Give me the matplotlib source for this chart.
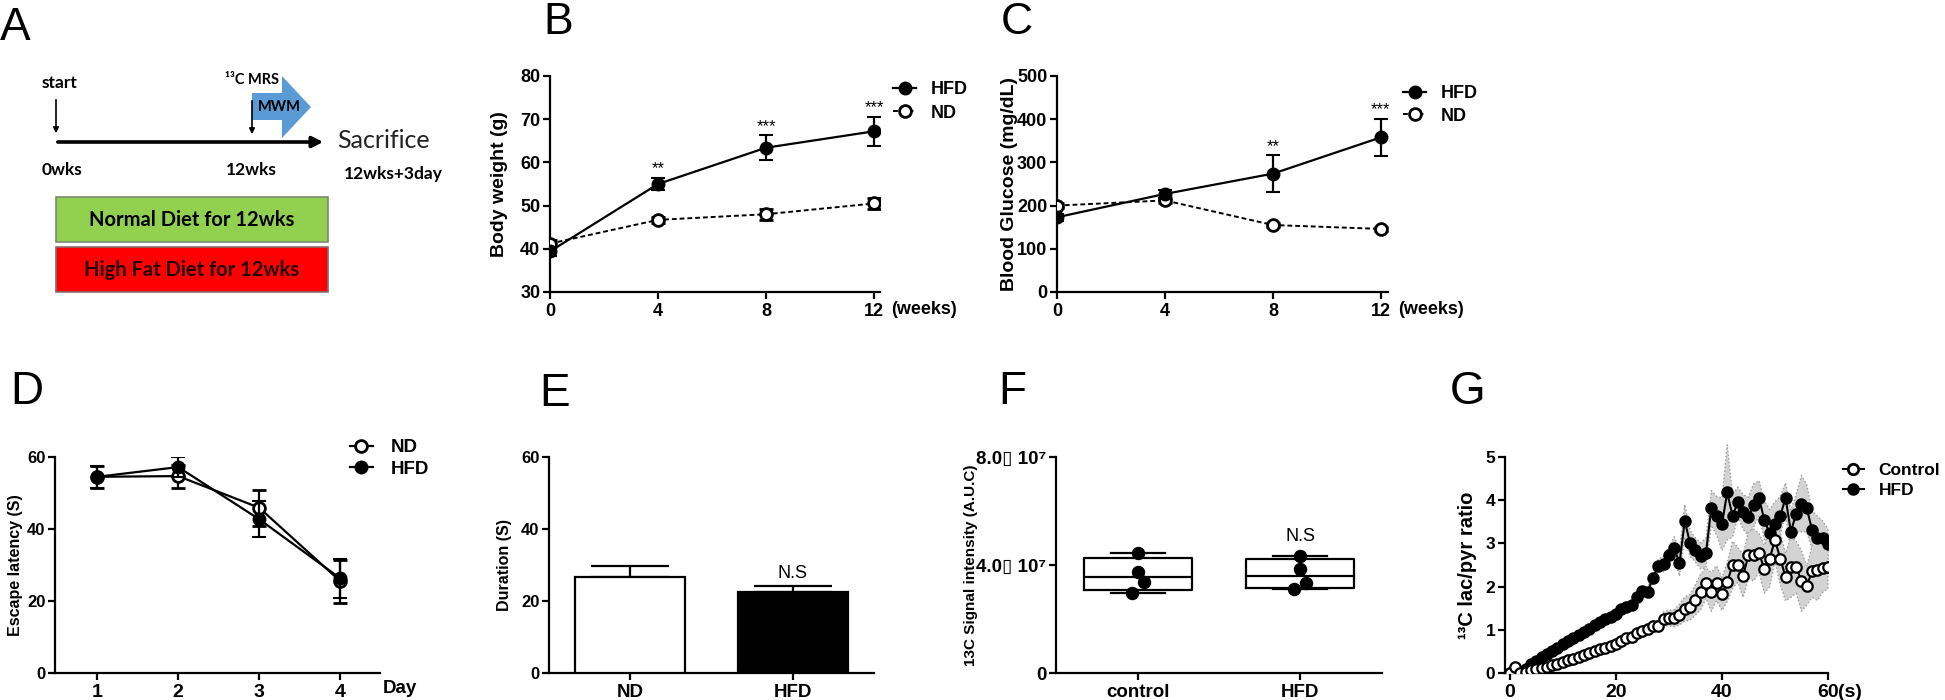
import numpy as np
import matplotlib
matplotlib.use('Agg')
import matplotlib.pyplot as plt
import matplotlib.transforms as mtransforms
from matplotlib.patches import Polygon, Rectangle
from matplotlib.lines import Line2D

plt.rcParams['font.family'] = ['Liberation Sans', 'DejaVu Sans']
plt.rcParams['font.weight'] = 'bold'
plt.rcParams['axes.labelweight'] = 'bold'
plt.rcParams['axes.linewidth'] = 1.6

# ---------------- data ----------------
weeks = [0, 4, 8, 12]
bw_hfd = [39.4, 55.0, 63.4, 67.2]
bw_hfd_err = [1.0, 1.4, 2.9, 3.4]
bw_nd = [41.2, 46.7, 48.0, 50.5]
bw_nd_err = [0.8, 0.7, 1.3, 1.3]
bw_sig = ['', '**', '***', '***']

gl_hfd = [173, 227, 274, 358]
gl_hfd_err = [8, 9, 43, 43]
gl_nd = [200, 212, 155, 146]
gl_nd_err = [5, 5, 5, 5]
gl_sig = ['', '', '**', '***']

days = [1, 2, 3, 4]
el_nd = [54.5, 54.7, 45.9, 25.5]
el_nd_err = [3.0, 3.2, 5.0, 6.0]
el_hfd = [54.5, 57.2, 42.7, 26.3]
el_hfd_err = [3.0, 2.8, 5.0, 5.5]

groups_e = ['ND', 'HFD']
duration = [26.8, 22.6]
duration_err = [3.0, 1.6]

groups_f = ['control', 'HFD']
auc_control = [4.46e7, 3.73e7, 3.37e7, 2.97e7]
auc_hfd = [4.34e7, 3.84e7, 3.35e7, 3.10e7]
f_yticklabels = ['0', '4.0\u25af 10\u2077', '8.0\u25af 10\u2077']

time_s = list(range(61))
ratio_ctrl = [0.0, 0.13, 0.0, 0.02, 0.06, 0.09, 0.12, 0.15, 0.18, 0.21,
              0.25, 0.29, 0.33, 0.37, 0.41, 0.46, 0.51, 0.55, 0.59, 0.63,
              0.68, 0.74, 0.82, 0.84, 0.92, 0.98, 1.02, 1.08, 1.08, 1.25,
              1.27, 1.27, 1.35, 1.48, 1.52, 1.69, 1.88, 2.08, 1.88, 2.08,
              1.83, 2.10, 2.50, 2.50, 2.25, 2.73, 2.73, 2.78, 2.40, 2.65,
              3.08, 2.65, 2.22, 2.45, 2.45, 2.13, 2.02, 2.35, 2.38, 2.42, 2.45]
ratio_ctrl_err = [0.02, 0.03, 0.02, 0.02, 0.02, 0.02, 0.03, 0.03, 0.03, 0.03,
                  0.03, 0.04, 0.04, 0.04, 0.05, 0.05, 0.05, 0.06, 0.06, 0.07,
                  0.07, 0.08, 0.09, 0.09, 0.10, 0.11, 0.12, 0.12, 0.14, 0.16,
                  0.18, 0.20, 0.24, 0.28, 0.30, 0.35, 0.42, 0.35, 0.45, 0.40,
                  0.38, 0.45, 0.55, 0.40, 0.50, 0.55, 0.60, 0.45, 0.55, 0.65,
                  0.50, 0.60, 0.55, 0.70, 0.60, 0.70, 0.45, 0.60, 0.70, 0.55, 0.50]
ratio_hfd = [0.0, 0.0, 0.03, 0.10, 0.20, 0.28, 0.36, 0.44, 0.51, 0.59,
             0.67, 0.74, 0.82, 0.89, 0.95, 1.02, 1.10, 1.18, 1.25, 1.30,
             1.37, 1.48, 1.52, 1.57, 1.75, 1.90, 1.88, 2.20, 2.48, 2.52,
             2.72, 2.90, 2.54, 3.52, 3.00, 2.85, 2.71, 2.78, 3.82, 3.64,
             3.44, 4.18, 3.64, 3.95, 3.73, 3.62, 3.88, 4.05, 3.54, 3.23,
             3.46, 3.64, 4.05, 3.27, 3.69, 3.92, 3.81, 3.31, 3.13, 3.12, 2.98]
ratio_hfd_err = [0.02, 0.02, 0.02, 0.02, 0.02, 0.02, 0.02, 0.02, 0.03, 0.03,
                 0.03, 0.03, 0.03, 0.04, 0.04, 0.04, 0.04, 0.05, 0.05, 0.05,
                 0.06, 0.06, 0.07, 0.07, 0.08, 0.09, 0.10, 0.12, 0.15, 0.18,
                 0.20, 0.25, 0.30, 0.38, 0.30, 0.28, 0.30, 0.35, 0.40, 0.45,
                 0.60, 1.10, 0.50, 0.35, 0.40, 0.45, 0.50, 0.40, 0.45, 0.55,
                 0.50, 0.45, 0.35, 0.50, 0.45, 0.65, 0.55, 0.45, 0.50, 0.40, 0.35]

# ---------------- figure ----------------
W, H = 1945, 700
fig = plt.figure(figsize=(W / 100, H / 100), dpi=100)


def axes_px(l, t, r, b):
    return fig.add_axes([l / W, 1 - b / H, (r - l) / W, (b - t) / H])


def style(ax, xsize, ysize):
    for s in ['top', 'right']:
        ax.spines[s].set_visible(False)
    ax.tick_params(direction='out', length=5, width=1.6)
    ax.tick_params(axis='x', labelsize=xsize, pad=3)
    ax.tick_params(axis='y', labelsize=ysize, pad=2)


def ylabel_at(ax, text, px_center, l, r, size):
    ax.set_ylabel(text, fontsize=size, fontweight='bold')
    right_edge = px_center + 0.56 * size * 100 / 72
    ax.yaxis.set_label_coords((right_edge - l) / (r - l), 0.5)


def legend_px(ax, handles, labels, px_left, px_mid, size, hl, htp, ls):
    ax.legend(handles, labels, loc='center left',
              bbox_to_anchor=(px_left / W, 1 - px_mid / H),
              bbox_transform=fig.transFigure, frameon=False,
              handlelength=hl, handletextpad=htp, labelspacing=ls,
              borderpad=0, borderaxespad=0, prop={'weight': 'bold', 'size': size})


def letter(px_x, px_top, s, size, family=None):
    kw = {}
    if family:
        kw['family'] = family
    fig.text(px_x / W, 1 - px_top / H, s, fontsize=size, fontweight='normal',
             ha='left', va='top', **kw)


ms = 8.5
filled = dict(marker='o', color='black', markerfacecolor='black', markersize=ms,
              markeredgewidth=1.5)
opened = dict(marker='o', color='black', markerfacecolor='white', markersize=ms,
              markeredgewidth=2.0)

# ---------------- Panel A ----------------
axA = fig.add_axes([0, 1 - 320 / H, 480 / W, 320 / H])
axA.set_xlim(0, 480)
axA.set_ylim(320, 0)
axA.axis('off')
fa = ['Lato', 'Liberation Sans', 'DejaVu Sans']
axA.text(60, 83, 'start', family=fa, fontsize=12.5, fontweight='bold', ha='center', va='center')
axA.annotate('', xy=(56, 136), xytext=(56, 97),
             arrowprops=dict(arrowstyle='-|>', lw=1.2, color='black', mutation_scale=8))
axA.add_patch(Polygon([(252, 93), (282, 93), (282, 76), (311, 107), (282, 138), (282, 120), (252, 120)],
                      closed=True, facecolor='#5b9bd5', edgecolor='none'))
axA.annotate('', xy=(252, 137), xytext=(252, 98),
             arrowprops=dict(arrowstyle='-|>', lw=1.2, color='black', mutation_scale=8))
axA.annotate('', xy=(326, 142), xytext=(55, 142),
             arrowprops=dict(arrowstyle='-|>', lw=2.6, color='black', mutation_scale=16))
axA.text(252, 80, '\u00b9\u00b3C MRS', family=fa, fontsize=10.5, fontweight='bold', ha='center', va='center')
axA.text(279, 107, 'MWM', family=fa, fontsize=10.5, fontweight='bold', ha='center', va='center')
axA.text(337, 140, 'Sacrifice', family=fa, fontsize=18, fontweight='normal', ha='left', va='center',
         color='#222222')
axA.text(62, 170, '0wks', family=fa, fontsize=12.5, fontweight='bold', ha='center', va='center')
axA.text(251, 170, '12wks', family=fa, fontsize=12.5, fontweight='bold', ha='center', va='center')
axA.text(393, 174, '12wks+3day', family=fa, fontsize=12.5, fontweight='bold', ha='center', va='center')
axA.add_patch(Rectangle((56, 197), 272, 45, facecolor='#92d050', edgecolor='#7a8a70', lw=1.2))
axA.add_patch(Rectangle((56, 247), 272, 45, facecolor='#ff0000', edgecolor='#8a6a6a', lw=1.2))
axA.text(192, 220, 'Normal Diet for 12wks', family=fa, fontsize=14.5, fontweight='bold',
         ha='center', va='center', color='black')
axA.text(192, 270, 'High Fat Diet for 12wks', family=fa, fontsize=14.5, fontweight='bold',
         ha='center', va='center', color='#200000')

# ---------------- Panel B ----------------
lB, rB = 550, 880
axB = axes_px(lB, 76, rB, 292)
style(axB, 13, 13)
axB.errorbar(weeks, bw_nd, yerr=bw_nd_err, ls=(0, (2.5, 1.5)), lw=1.4, capsize=5,
             elinewidth=1.6, capthick=1.6, zorder=3, **opened)
axB.errorbar(weeks, bw_hfd, yerr=bw_hfd_err, ls='-', lw=1.6, capsize=5,
             elinewidth=1.6, capthick=1.6, zorder=4, **filled)
for x, yv, e, s in zip(weeks, bw_hfd, bw_hfd_err, bw_sig):
    if s:
        axB.annotate(s, (x, yv + e), xytext=(0, 1), textcoords='offset points',
                     ha='center', va='bottom', fontsize=12, fontweight='normal')
axB.set_xlim(0, 12.22)
axB.set_ylim(30, 80)
axB.set_xticks(weeks)
axB.set_yticks([30, 40, 50, 60, 70, 80])
ylabel_at(axB, 'Body weight (g)', 497, lB, rB, 14)
tB = mtransforms.blended_transform_factory(axB.transData, axB.transAxes)
axB.text(12.65, -0.083, '(weeks)', transform=tB, fontsize=13, fontweight='bold',
         ha='left', va='center')
legend_px(axB,
          [Line2D([], [], ls='-', lw=1.6, **filled),
           Line2D([], [], ls=(0, (2.5, 1.5)), lw=1.4, **opened)],
          ['HFD', 'ND'], 893, 101.5, 13, 1.3, 0.8, 0.35)

# ---------------- Panel C ----------------
lC, rC = 1057, 1388
axC = axes_px(lC, 76, rC, 292)
style(axC, 13, 13)
axC.errorbar(weeks, gl_nd, yerr=gl_nd_err, ls=(0, (2.5, 1.5)), lw=1.4, capsize=5,
             elinewidth=1.6, capthick=1.6, zorder=3, **opened)
axC.errorbar(weeks, gl_hfd, yerr=gl_hfd_err, ls='-', lw=1.6, capsize=5,
             elinewidth=1.6, capthick=1.6, zorder=4, **filled)
for x, yv, e, s in zip(weeks, gl_hfd, gl_hfd_err, gl_sig):
    if s:
        axC.annotate(s, (x, yv + e), xytext=(0, 1), textcoords='offset points',
                     ha='center', va='bottom', fontsize=12, fontweight='normal')
axC.set_xlim(0, 12.26)
axC.set_ylim(0, 500)
axC.set_xticks(weeks)
axC.set_yticks([0, 100, 200, 300, 400, 500])
ylabel_at(axC, 'Blood Glucose (mg/dL)', 1007, lC, rC, 14)
tC = mtransforms.blended_transform_factory(axC.transData, axC.transAxes)
axC.text(12.63, -0.083, '(weeks)', transform=tC, fontsize=13, fontweight='bold',
         ha='left', va='center')
legend_px(axC,
          [Line2D([], [], ls='-', lw=1.6, **filled),
           Line2D([], [], ls=(0, (2.5, 1.5)), lw=1.4, **opened)],
          ['HFD', 'ND'], 1403, 105, 13, 1.3, 0.8, 0.3)

# ---------------- Panel D ----------------
lD, rD = 55, 380
axD = axes_px(lD, 457, rD, 673)
style(axD, 14, 12)
axD.errorbar(days, el_nd, yerr=el_nd_err, ls='-', lw=1.6, capsize=5,
             elinewidth=1.6, capthick=1.6, zorder=3, **opened)
axD.errorbar(days, el_hfd, yerr=el_hfd_err, ls='-', lw=1.6, capsize=5,
             elinewidth=1.6, capthick=1.6, zorder=4, **filled)
axD.set_xlim(0.48, 4.49)
axD.set_ylim(0, 60)
axD.set_xticks(days)
axD.set_yticks([0, 20, 40, 60])
ylabel_at(axD, 'Escape latency (S)', 14, lD, rD, 11.5)
tD = mtransforms.blended_transform_factory(axD.transData, axD.transAxes)
axD.text(4.53, -0.07, 'Day', transform=tD, fontsize=13.5, fontweight='bold',
         ha='left', va='center')
legend_px(axD,
          [Line2D([], [], ls='-', lw=1.6, **opened),
           Line2D([], [], ls='-', lw=1.6, **filled)],
          ['ND', 'HFD'], 350, 458.5, 13.5, 1.2, 0.95, 0.25)

# ---------------- Panel E ----------------
lE, rE = 549, 874
axE = axes_px(lE, 457, rE, 673)
style(axE, 13.5, 12)
xe = np.arange(len(groups_e))
axE.bar(xe, duration, width=0.67, color=['white', 'black'], edgecolor='black',
        linewidth=1.6, zorder=3)
axE.errorbar(xe, duration, yerr=[np.zeros(len(duration)), duration_err], fmt='none',
             ecolor='black', elinewidth=1.6, capsize=28, capthick=1.6, zorder=2)
axE.text(1, duration[1] + duration_err[1] + 1.2, 'N.S', ha='center', va='bottom',
         fontsize=13, fontweight='normal')
axE.set_xlim(-0.497, 1.497)
axE.set_ylim(0, 60)
axE.set_xticks(xe)
axE.set_xticklabels(groups_e)
axE.set_yticks([0, 20, 40, 60])
ylabel_at(axE, 'Duration (S)', 503, lE, rE, 11.5)

# ---------------- Panel F ----------------
lF, rF = 1056, 1382
axF = axes_px(lF, 457, rF, 673)
style(axF, 13.5, 13.5)
stats = []
for vals in (auc_control, auc_hfd):
    v = np.array(vals)
    q1, med, q3 = np.percentile(v, [25, 50, 75], method='weibull')
    stats.append(dict(med=med, q1=q1, q3=q3, whislo=v.min(), whishi=v.max(), fliers=[]))
axF.bxp(stats, positions=[0, 1], widths=0.67, showfliers=False,
        boxprops=dict(lw=1.6, color='black'), medianprops=dict(lw=1.6, color='black'),
        whiskerprops=dict(lw=1.6, color='black'), capprops=dict(lw=1.6, color='black'),
        manage_ticks=False)
jitter_f = [0.0, 0.0, 0.04, -0.04]
for i, vals in enumerate((auc_control, auc_hfd)):
    axF.scatter(np.array(jitter_f) + i, vals, s=75, color='black', zorder=4)
axF.text(1, max(auc_hfd) + 0.4e7, 'N.S', ha='center', va='bottom', fontsize=13,
         fontweight='normal')
axF.set_xlim(-0.506, 1.506)
axF.set_ylim(0, 8e7)
axF.set_xticks([0, 1])
axF.set_xticklabels(groups_f)
axF.set_yticks([0, 4e7, 8e7])
axF.set_yticklabels(f_yticklabels)
ylabel_at(axF, '13C Signal intensity (A.U.C)', 969, lF, rF, 11)

# ---------------- Panel G ----------------
lG, rG = 1505, 1828
axG = axes_px(lG, 457, rG, 673)
style(axG, 14, 12.5)
tc = np.array(time_s)
rc = np.array(ratio_ctrl)
rce = np.array(ratio_ctrl_err)
rh = np.array(ratio_hfd)
rhe = np.array(ratio_hfd_err)
axG.fill_between(tc, rh - rhe, rh + rhe, facecolor='#d3d3d3', edgecolor='#9a9a9a',
                 linestyle=':', lw=1.0, zorder=1, clip_on=False)
axG.fill_between(tc, rc - rce, rc + rce, facecolor='#d3d3d3', edgecolor='#9a9a9a',
                 linestyle=':', lw=1.0, zorder=1, clip_on=False)
axG.plot(tc, rh, ls='-', lw=1.5, zorder=3, **dict(filled, markersize=7.5))
axG.plot(tc, rc, ls='-', lw=1.5, zorder=4, **dict(opened, markersize=7.5, markeredgewidth=1.6))
axG.set_xlim(-0.89, 60)
axG.set_ylim(0, 5)
axG.set_xticks([0, 20, 40, 60])
axG.set_yticks([0, 1, 2, 3, 4, 5])
ylabel_at(axG, '\u00b9\u00b3C lac/pyr ratio', 1466, lG, rG, 14.5)
tG = mtransforms.blended_transform_factory(axG.transData, axG.transAxes)
axG.text(61.9, -0.088, '(s)', transform=tG, fontsize=14, fontweight='bold',
         ha='left', va='center')
legend_px(axG,
          [Line2D([], [], ls='-', lw=1.5, **dict(opened, markersize=7.5)),
           Line2D([], [], ls='-', lw=1.5, **dict(filled, markersize=7.5))],
          ['Control', 'HFD'], 1843, 480.5, 12.5, 1.2, 0.85, 0.3)

# ---------------- panel letters ----------------
letter(0, 6, 'A', 33)
narrow = ['Liberation Sans Narrow', 'Liberation Sans']
letter(543, 2, 'B', 32, narrow)
letter(1001, 2, 'C', 32, narrow)
letter(10, 370, 'D', 33)
letter(539, 372, 'E', 33)
letter(998, 370, 'F', 33)
letter(1450, 370, 'G', 33)

fig.savefig('out.png', dpi=100)
